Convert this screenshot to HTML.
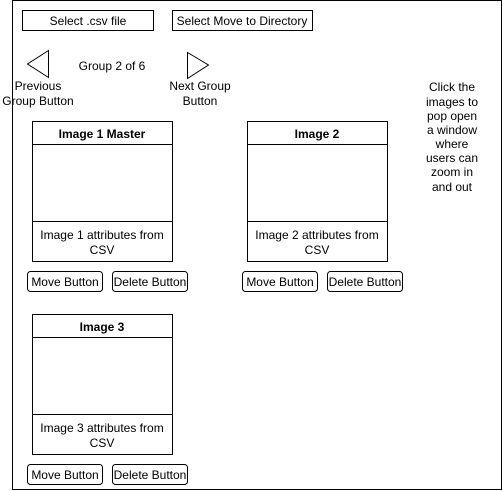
<!DOCTYPE html>
<html><head><style>body{margin:0;background:#fff}svg{display:block}text{font-family:"Liberation Sans",Arial,sans-serif;font-size:12px;fill:#000}</style></head>
<body>
<svg width="503" height="491" xmlns="http://www.w3.org/2000/svg">
<g fill="none" stroke="#000" stroke-width="1">
<rect x="12.5" y="0.5" width="489" height="489"/>
<rect x="22.5" y="10.5" width="131" height="20"/>
<rect x="172.5" y="10.5" width="140" height="20"/>
<polygon points="48.5,50.5 27.5,64 48.5,77.5"/>
<polygon points="187.5,52.5 208.5,65 187.5,78.5"/>
<rect x="32.5" y="121.5" width="140" height="140"/>
<line x1="32.5" y1="144.5" x2="172.5" y2="144.5"/>
<line x1="32.5" y1="221.5" x2="172.5" y2="221.5"/>
<rect x="247.5" y="121.5" width="140" height="140"/>
<line x1="247.5" y1="144.5" x2="387.5" y2="144.5"/>
<line x1="247.5" y1="221.5" x2="387.5" y2="221.5"/>
<rect x="32.5" y="314.5" width="140" height="140"/>
<line x1="32.5" y1="337.5" x2="172.5" y2="337.5"/>
<line x1="32.5" y1="414.5" x2="172.5" y2="414.5"/>
<rect x="27.5" y="271.5" width="75" height="20" rx="3"/>
<rect x="112.5" y="271.5" width="75" height="20" rx="3"/>
<rect x="242.5" y="271.5" width="75" height="20" rx="3"/>
<rect x="327.5" y="271.5" width="75" height="20" rx="3"/>
<rect x="27.5" y="464.5" width="75" height="20" rx="3"/>
<rect x="112.5" y="464.5" width="75" height="20" rx="3"/>
</g>
<g text-anchor="middle">
<text x="88" y="25">Select .csv file</text>
<text x="242" y="25">Select Move to Directory</text>
<text x="112" y="70">Group 2 of 6</text>
<text x="38" y="90">Previous</text>
<text x="38" y="105">Group Button</text>
<text x="200" y="90">Next Group</text>
<text x="200" y="105">Button</text>
<text x="102" y="138" font-weight="bold">Image 1 Master</text>
<text x="317" y="138" font-weight="bold">Image 2</text>
<text x="102" y="331" font-weight="bold">Image 3</text>
<text x="102" y="239">Image 1 attributes from</text>
<text x="102" y="254">CSV</text>
<text x="317" y="239">Image 2 attributes from</text>
<text x="317" y="254">CSV</text>
<text x="102" y="432">Image 3 attributes from</text>
<text x="102" y="447">CSV</text>
<text x="65" y="286">Move Button</text>
<text x="150" y="286">Delete Button</text>
<text x="280" y="286">Move Button</text>
<text x="365" y="286">Delete Button</text>
<text x="65" y="479">Move Button</text>
<text x="150" y="479">Delete Button</text>
<text x="452" y="91">Click the</text>
<text x="452" y="106">images to</text>
<text x="452" y="120">pop open</text>
<text x="452" y="134">a window</text>
<text x="452" y="148">where</text>
<text x="452" y="162">users can</text>
<text x="452" y="176">zoom in</text>
<text x="452" y="191">and out</text>
</g>
</svg>
</body></html>
